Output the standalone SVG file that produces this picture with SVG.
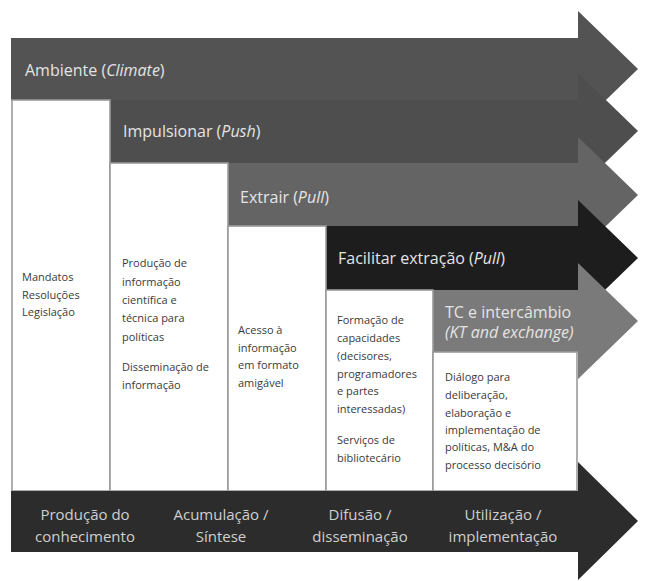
<svg xmlns="http://www.w3.org/2000/svg" width="647" height="581" viewBox="0 0 647 581">
<style>
.hd{font-family:"Open Sans","Noto Sans","Liberation Sans",sans-serif;font-size:16px;fill:#e4e4e4}
.bt{font-family:"Open Sans","Noto Sans","Liberation Sans",sans-serif;font-size:15px;fill:#cfcfcf;text-anchor:middle}
.tx{font-family:"Open Sans","Noto Sans","Liberation Sans",sans-serif;font-size:11px;fill:#3a3a3a}
.box{fill:#ffffff;stroke:#9a9a9a;stroke-width:1.6}
</style>
<rect width="647" height="581" fill="#ffffff"/>
<g id="arrow-ambiente">
<polygon points="11,38 578,38 578,11 638,69 578,127 578,100 11,100" fill="#535353"/>
<text class="hd" x="25" y="76">Ambiente (<tspan font-style="italic">Climate</tspan>)</text>
</g>
<g id="arrow-impulsionar">
<polygon points="110,100 578,100 578,73 638,131 578,189 578,163 110,163" fill="#4e4e4e"/>
<text class="hd" x="123" y="137">Impulsionar (<tspan font-style="italic">Push</tspan>)</text>
</g>
<g id="arrow-extrair">
<polygon points="228,163 578,163 578,137 638,195 578,253 578,226 228,226" fill="#646464"/>
<text class="hd" x="240" y="203">Extrair (<tspan font-style="italic">Pull</tspan>)</text>
</g>
<g id="arrow-facilitar">
<polygon points="326,226 578,226 578,200 638,258 578,316 578,290 326,290" fill="#1d1d1d"/>
<text class="hd" x="338" y="264">Facilitar extração (<tspan font-style="italic">Pull</tspan>)</text>
</g>
<g id="arrow-tc">
<polygon points="433,290 578,290 578,263 638,321 578,379 578,352 433,352" fill="#7a7a7a"/>
<text class="hd" x="445" y="318">TC e intercâmbio</text>
<text class="hd" x="445" y="338" font-style="italic">(KT and exchange)</text>
</g>
<g id="col-mandatos">
<rect class="box" x="12" y="100" width="98" height="391"/>
<text class="tx" x="22" y="281">Mandatos</text>
<text class="tx" x="22" y="298.5">Resoluções</text>
<text class="tx" x="22" y="316">Legislação</text>
</g>
<g id="col-producao">
<rect class="box" x="110" y="163" width="118" height="328"/>
<text class="tx" x="122" y="267">Produção de</text>
<text class="tx" x="122" y="285.5">informação</text>
<text class="tx" x="122" y="304">científica e</text>
<text class="tx" x="122" y="322">técnica para</text>
<text class="tx" x="122" y="340.5">políticas</text>
<text class="tx" x="122" y="371">Disseminação de</text>
<text class="tx" x="122" y="389">informação</text>
</g>
<g id="col-acesso">
<rect class="box" x="228" y="226" width="98" height="265"/>
<text class="tx" x="238" y="334">Acesso à</text>
<text class="tx" x="238" y="351.5">informação</text>
<text class="tx" x="238" y="369">em formato</text>
<text class="tx" x="238" y="387">amigável</text>
</g>
<g id="col-formacao">
<rect class="box" x="326" y="290" width="107" height="201"/>
<text class="tx" x="337" y="324">Formação de</text>
<text class="tx" x="337" y="342">capacidades</text>
<text class="tx" x="337" y="360">(decisores,</text>
<text class="tx" x="337" y="377.5">programadores</text>
<text class="tx" x="337" y="395">e partes</text>
<text class="tx" x="337" y="412.5">interessadas)</text>
<text class="tx" x="337" y="444">Serviços de</text>
<text class="tx" x="337" y="462">bibliotecário</text>
</g>
<g id="col-dialogo">
<rect class="box" x="433" y="352" width="144" height="139"/>
<text class="tx" x="445" y="381">Diálogo para</text>
<text class="tx" x="445" y="399">deliberação,</text>
<text class="tx" x="445" y="417">elaboração e</text>
<text class="tx" x="445" y="434">implementação de</text>
<text class="tx" x="445" y="451">políticas, M&amp;A do</text>
<text class="tx" x="445" y="469">processo decisório</text>
</g>
<g id="arrow-fases">
<polygon points="11,491 578,491 578,462 638,521 578,580 578,552 11,552" fill="#2c2c2c"/>
<text class="bt" x="85" y="520">Produção do</text>
<text class="bt" x="85" y="542">conhecimento</text>
<text class="bt" x="221" y="520">Acumulação /</text>
<text class="bt" x="221" y="542">Síntese</text>
<text class="bt" x="360" y="520">Difusão /</text>
<text class="bt" x="360" y="542">disseminação</text>
<text class="bt" x="503" y="520">Utilização /</text>
<text class="bt" x="503" y="542">implementação</text>
</g>
<g id="connectors"/>
</svg>
